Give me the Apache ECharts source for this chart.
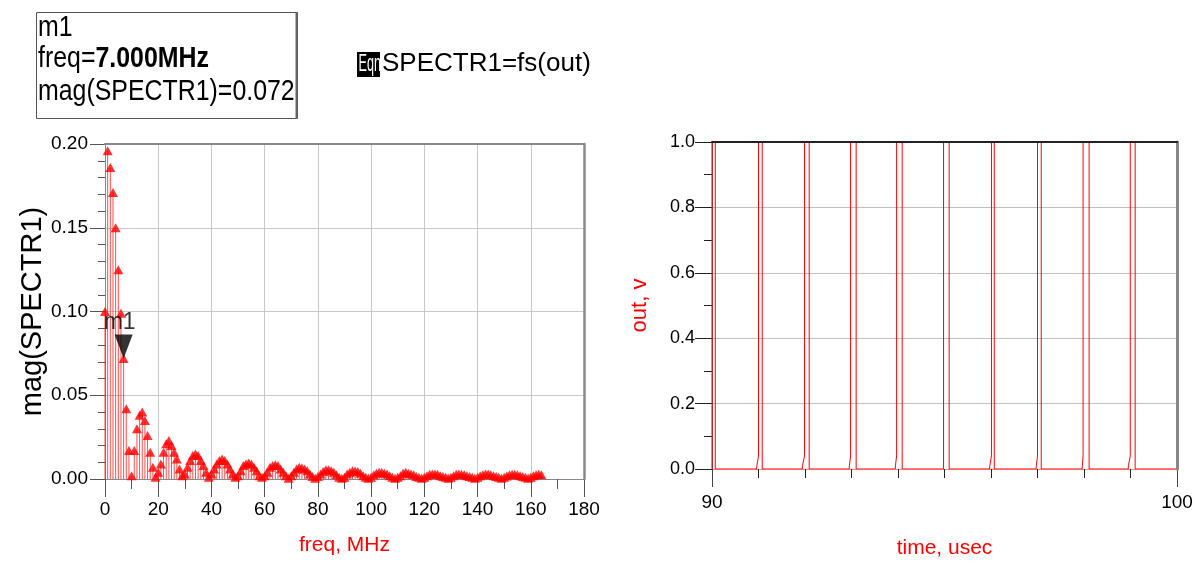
<!DOCTYPE html>
<html><head><meta charset="utf-8">
<script src="https://cdn.jsdelivr.net/npm/echarts@6/dist/echarts.min.js"></script>
<style>html,body{margin:0;padding:0;background:#fff}#c{width:1196px;height:562px}</style>
</head><body><div id="c"></div>
<script>
// ---- Spectrum (left plot): magnitude at each 1 MHz harmonic, 0..164 MHz ----
const specStepMHz = 1;
const specMag = [
 0.100,0.196,0.186,0.171,0.150,0.125,0.099,0.072,0.042,0.017,
 0.002,0.017,0.030,0.038,0.040,0.035,0.026,0.016,0.007,0.001,
 0.004,0.009,0.016,0.021,0.023,0.020,0.016,0.012,0.006,0.002,
 0.003,0.007,0.011,0.014,0.015,0.014,0.011,0.008,0.004,0.001,
 0.003,0.006,0.009,0.011,0.012,0.011,0.009,0.006,0.003,0.001,
 0.002,0.005,0.008,0.009,0.0095,0.009,0.007,0.005,0.002,0.001,
 0.002,0.004,0.007,0.008,0.0085,0.008,0.006,0.004,0.002,0.0005,
 0.002,0.004,0.006,0.007,0.0065,0.006,0.005,0.003,0.0015,0.0005,
 0.0015,0.003,0.0045,0.0055,0.0055,0.005,0.004,0.0025,0.001,0.0005,
 0.001,0.003,0.004,0.005,0.0048,0.0045,0.0035,0.002,0.001,0.0005,
 0.001,0.0025,0.0035,0.004,0.004,0.0035,0.003,0.002,0.001,0.0005,
 0.001,0.002,0.0035,0.004,0.0035,0.003,0.0025,0.0015,0.001,0.0005,
 0.001,0.002,0.0028,0.003,0.003,0.0028,0.002,0.0015,0.001,0.0005,
 0.001,0.002,0.0028,0.003,0.0028,0.0025,0.002,0.0015,0.001,0.0005,
 0.001,0.002,0.0025,0.003,0.003,0.0025,0.002,0.0015,0.001,0.0005,
 0.001,0.0018,0.0025,0.0028,0.0028,0.0025,0.002,0.0015,0.001,0.0005,
 0.001,0.002,0.0025,0.0028,0.0025
];
const markerFreq = 7.0;
const markerMag = 0.072;
const markerName = 'm1';

// ---- Time waveform (right plot): out, v versus time, usec ----
const outTime = [
 90.00,90.00,90.07,90.07,
 90.96,90.965,91.00,91.00,91.08,91.08,
 91.94,91.945,91.99,91.99,92.09,92.09,
 92.95,92.955,92.98,92.98,93.10,93.10,
 93.94,93.945,93.97,93.97,94.09,94.09,
 94.98,94.98,95.10,95.10,
 95.97,95.975,96.01,96.01,96.07,96.07,
 96.97,96.975,97.00,97.00,97.08,97.08,
 97.96,97.965,97.98,97.98,98.11,98.11,
 98.95,98.955,98.995,98.995,99.10,99.10,
 100.0
];
const outVolt = [
 0,1,1,0,
 0,0.01,0.04,1,1,0,
 0,0.01,0.04,1,1,0,
 0,0.01,0.04,1,1,0,
 0,0.01,0.04,1,1,0,
 0,1,1,0,
 0,0.01,0.04,1,1,0,
 0,0.01,0.04,1,1,0,
 0,0.01,0.04,1,1,0,
 0,0.01,0.04,1,1,0,
 0
];

const SANS = "'Liberation Sans',Arial,sans-serif";

const specData = specMag.map((v, i) => [i * specStepMHz, v]);
const outData = outTime.map((t, i) => [t, outVolt[i]]);

const chart = echarts.init(document.getElementById('c'), null, {renderer: 'canvas'});

function borderAxis(grid, pos, color, width) {
  return {gridIndex: grid, position: pos, type: 'value', min: 0, max: 1, z: 5,
    axisLine: {show: true, onZero: false, lineStyle: {color: color, width: width}},
    axisTick: {show: false}, axisLabel: {show: false}, splitLine: {show: false}};
}

chart.setOption({
  animation: false,
  backgroundColor: '#fff',
  grid: [
    {left: 105, top: 144, width: 479, height: 335, outerBoundsMode: 'none', containLabel: false},
    {left: 712, top: 142, width: 465, height: 327, outerBoundsMode: 'none', containLabel: false}
  ],
  xAxis: [
    {gridIndex: 0, type: 'value', min: 0, max: 180, interval: 20, position: 'bottom',
      axisLine: {show: true, onZero: false, lineStyle: {color: '#888'}},
      axisTick: {show: true, length: 18, lineStyle: {color: '#555'}},
      minorTick: {show: true, splitNumber: 2, length: 10, lineStyle: {color: '#555'}},
      splitLine: {show: true, lineStyle: {color: '#c8c8c8'}},
      axisLabel: {color: '#000', fontFamily: SANS, fontSize: 19, margin: 21},
      name: 'freq, MHz', nameLocation: 'middle', nameGap: 56,
      nameTextStyle: {color: '#ff0000', fontFamily: SANS, fontSize: 21}},
    borderAxis(0, 'top', '#888', 2),
    {gridIndex: 1, type: 'value', min: 90, max: 100, interval: 10, position: 'bottom',
      axisLine: {show: true, onZero: false, lineStyle: {color: '#ff8080'}},
      axisTick: {show: true, length: 18, lineStyle: {color: '#444'}},
      minorTick: {show: true, splitNumber: 10, length: 9, lineStyle: {color: '#222'}},
      splitLine: {show: false},
      axisLabel: {color: '#000', fontFamily: SANS, fontSize: 19, margin: 24},
      name: 'time, usec', nameLocation: 'middle', nameGap: 69,
      nameTextStyle: {color: '#ff0000', fontFamily: SANS, fontSize: 21}},
    borderAxis(1, 'top', '#222', 2)
  ],
  yAxis: [
    {gridIndex: 0, type: 'value', min: 0, max: 0.2, interval: 0.05, position: 'left',
      axisLine: {show: true, onZero: false, lineStyle: {color: '#888'}},
      axisTick: {show: true, length: 15, lineStyle: {color: '#555'}},
      minorTick: {show: true, splitNumber: 5, length: 7, lineStyle: {color: '#555'}},
      splitLine: {show: true, lineStyle: {color: '#c8c8c8'}},
      axisLabel: {color: '#000', fontFamily: SANS, fontSize: 19, margin: 17,
        formatter: v => v.toFixed(2)},
      name: 'mag(SPECTR1)', nameLocation: 'middle', nameGap: 55, nameRotate: 90,
      nameTextStyle: {color: '#000', fontFamily: SANS, fontSize: 29}},
    borderAxis(0, 'right', '#888', 2.5),
    {gridIndex: 1, type: 'value', min: 0, max: 1, interval: 0.2, position: 'left',
      axisLine: {show: true, onZero: false, lineStyle: {color: '#555'}},
      axisTick: {show: true, length: 17, lineStyle: {color: '#222'}},
      minorTick: {show: true, splitNumber: 2, length: 8, lineStyle: {color: '#222'}},
      splitLine: {show: true, lineStyle: {color: '#c0c0c0'}},
      axisLabel: {color: '#000', fontFamily: SANS, fontSize: 18, margin: 17,
        formatter: v => v.toFixed(1)},
      name: 'out, v', nameLocation: 'middle', nameGap: 61, nameRotate: 90,
      nameTextStyle: {color: '#ff0000', fontFamily: SANS, fontSize: 22}},
    borderAxis(1, 'right', '#888', 3)
  ],
  series: [
    {type: 'bar', xAxisIndex: 0, yAxisIndex: 0, data: specData, barWidth: 1,
      itemStyle: {color: 'rgba(255,0,0,0.7)'}, silent: true, z: 2},
    {type: 'scatter', xAxisIndex: 0, yAxisIndex: 0, data: specData, symbol: 'triangle',
      symbolSize: [10, 9], itemStyle: {color: '#ff0000'}, silent: true, z: 3, clip: false},
    {type: 'scatter', xAxisIndex: 0, yAxisIndex: 0, data: [[markerFreq, markerMag]],
      symbol: 'triangle', symbolRotate: 180, symbolSize: [18, 24], symbolOffset: [0, -12],
      itemStyle: {color: '#000'}, silent: true, z: 6},
    {type: 'scatter', xAxisIndex: 0, yAxisIndex: 0, data: [[markerFreq, markerMag]],
      symbolSize: 1, itemStyle: {color: 'rgba(0,0,0,0)'}, silent: true, z: 7,
      label: {show: true, formatter: markerName, position: 'top', distance: 0, offset: [-4, -24],
        color: '#000', fontFamily: SANS, fontSize: 23}},
    {type: 'line', xAxisIndex: 2, yAxisIndex: 2, data: outData, showSymbol: false,
      lineStyle: {color: '#ff0000', width: 1}, silent: true, z: 2, clip: true}
  ],
  graphic: [
    {type: 'rect', shape: {x: 36.5, y: 12.5, width: 261, height: 106},
      style: {fill: '#fff', stroke: '#555', lineWidth: 1}},
    {type: 'line', shape: {x1: 296.5, y1: 12, x2: 296.5, y2: 119},
      style: {stroke: '#666', lineWidth: 2}},
    {type: 'text', x: 38, y: 28, scaleX: 0.83, style: {text: 'm1', font: "30px 'Liberation Sans'",
      fill: '#000', verticalAlign: 'middle'}},
    {type: 'text', x: 38, y: 59, scaleX: 0.83, style: {text: '{r|freq=}{b|7.000MHz}',
      verticalAlign: 'middle',
      rich: {r: {fontFamily: 'Liberation Sans', fontSize: 30, fill: '#000'},
             b: {fontFamily: 'Liberation Sans', fontSize: 30, fontWeight: 'bold', fill: '#000'}}}},
    {type: 'text', x: 38, y: 92, scaleX: 0.83, style: {text: 'mag(SPECTR1)=0.072',
      font: "30px 'Liberation Sans'", fill: '#000', verticalAlign: 'middle'}},
    {type: 'rect', shape: {x: 357, y: 52, width: 23, height: 25}, style: {fill: '#000'}},
    {type: 'text', x: 358.5, y: 64.5, scaleX: 0.55, style: {text: 'Eqn',
      font: "23px 'Liberation Sans'", fill: '#fff', verticalAlign: 'middle'}},
    {type: 'text', x: 382, y: 64, style: {text: 'SPECTR1=fs(out)',
      font: "26px 'Liberation Sans'", fill: '#000', verticalAlign: 'middle'}}
  ]
});
</script></body></html>
